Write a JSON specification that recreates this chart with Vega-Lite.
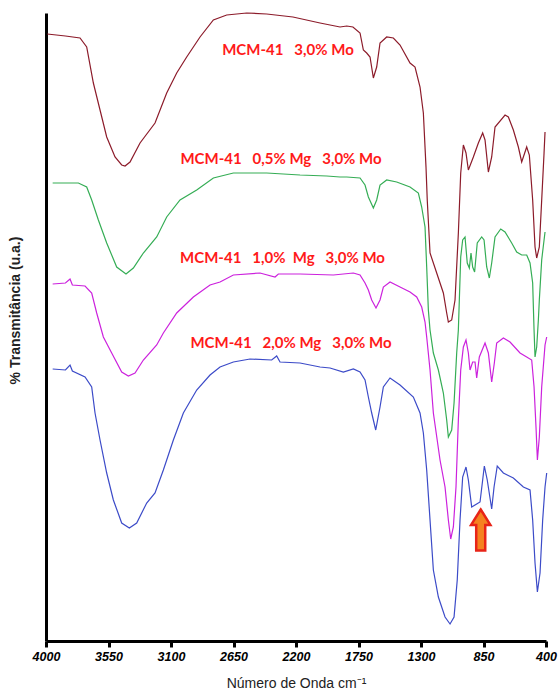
{
  "$schema": "https://vega.github.io/schema/vega-lite/v6.json",
  "width": 500,
  "height": 628,
  "autosize": {"type": "none"},
  "padding": {"left": 46, "top": 13, "right": 12, "bottom": 51},
  "background": "white",
  "config": {"view": {"stroke": null}},
  "datasets": {
    "spectra": [
      {"s":"a","w":3991,"t":607},{"s":"a","w":3860,"t":605},{"s":"a","w":3755,"t":603},{"s":"a","w":3707,"t":594},{"s":"a","w":3659,"t":558},{"s":"a","w":3611,"t":531},{"s":"a","w":3563,"t":504},{"s":"a","w":3503,"t":484},{"s":"a","w":3455,"t":476},{"s":"a","w":3431,"t":475},{"s":"a","w":3395,"t":479},{"s":"a","w":3323,"t":498},{"s":"a","w":3215,"t":518},{"s":"a","w":3131,"t":548},{"s":"a","w":3059,"t":568},{"s":"a","w":2987,"t":584},{"s":"a","w":2891,"t":604},{"s":"a","w":2795,"t":621},{"s":"a","w":2699,"t":626},{"s":"a","w":2555,"t":628},{"s":"a","w":2411,"t":627},{"s":"a","w":2222,"t":624},{"s":"a","w":2027,"t":618},{"s":"a","w":1883,"t":614},{"s":"a","w":1835,"t":615},{"s":"a","w":1790,"t":614},{"s":"a","w":1739,"t":608},{"s":"a","w":1715,"t":591},{"s":"a","w":1691,"t":588},{"s":"a","w":1667,"t":584},{"s":"a","w":1643,"t":563},{"s":"a","w":1619,"t":574},{"s":"a","w":1595,"t":598},{"s":"a","w":1547,"t":604},{"s":"a","w":1499,"t":603},{"s":"a","w":1451,"t":596},{"s":"a","w":1379,"t":578},{"s":"a","w":1343,"t":574},{"s":"a","w":1307,"t":554},{"s":"a","w":1283,"t":528},{"s":"a","w":1264,"t":474},{"s":"a","w":1255,"t":441},{"s":"a","w":1235,"t":388},{"s":"a","w":1187,"t":368},{"s":"a","w":1139,"t":348},{"s":"a","w":1115,"t":328},{"s":"a","w":1103,"t":319},{"s":"a","w":1079,"t":321},{"s":"a","w":1055,"t":341},{"s":"a","w":1031,"t":408},{"s":"a","w":1014,"t":468},{"s":"a","w":995,"t":496},{"s":"a","w":976,"t":488},{"s":"a","w":959,"t":471},{"s":"a","w":923,"t":484},{"s":"a","w":887,"t":498},{"s":"a","w":856,"t":508},{"s":"a","w":839,"t":501},{"s":"a","w":815,"t":469},{"s":"a","w":791,"t":484},{"s":"a","w":767,"t":514},{"s":"a","w":695,"t":526},{"s":"a","w":671,"t":524},{"s":"a","w":635,"t":511},{"s":"a","w":599,"t":494},{"s":"a","w":575,"t":479},{"s":"a","w":539,"t":494},{"s":"a","w":520,"t":486},{"s":"a","w":496,"t":441},{"s":"a","w":479,"t":394},{"s":"a","w":467,"t":383},{"s":"a","w":448,"t":394},{"s":"a","w":431,"t":441},{"s":"a","w":414,"t":488},{"s":"a","w":407,"t":509},

      {"s":"b","w":3952,"t":458},{"s":"b","w":3767,"t":458},{"s":"b","w":3707,"t":454},{"s":"b","w":3671,"t":441},{"s":"b","w":3623,"t":421},{"s":"b","w":3563,"t":398},{"s":"b","w":3491,"t":374},{"s":"b","w":3424,"t":367},{"s":"b","w":3371,"t":373},{"s":"b","w":3299,"t":388},{"s":"b","w":3203,"t":404},{"s":"b","w":3131,"t":424},{"s":"b","w":3035,"t":441},{"s":"b","w":2915,"t":451},{"s":"b","w":2795,"t":463},{"s":"b","w":2651,"t":468},{"s":"b","w":2555,"t":468},{"s":"b","w":2411,"t":468},{"s":"b","w":2171,"t":466},{"s":"b","w":1979,"t":465},{"s":"b","w":1883,"t":464},{"s":"b","w":1835,"t":464},{"s":"b","w":1739,"t":463},{"s":"b","w":1703,"t":456},{"s":"b","w":1679,"t":444},{"s":"b","w":1643,"t":433},{"s":"b","w":1619,"t":441},{"s":"b","w":1595,"t":456},{"s":"b","w":1547,"t":461},{"s":"b","w":1475,"t":459},{"s":"b","w":1379,"t":454},{"s":"b","w":1319,"t":448},{"s":"b","w":1295,"t":434},{"s":"b","w":1271,"t":414},{"s":"b","w":1259,"t":374},{"s":"b","w":1247,"t":331},{"s":"b","w":1235,"t":311},{"s":"b","w":1211,"t":288},{"s":"b","w":1175,"t":271},{"s":"b","w":1139,"t":248},{"s":"b","w":1115,"t":221},{"s":"b","w":1103,"t":204},{"s":"b","w":1079,"t":211},{"s":"b","w":1062,"t":238},{"s":"b","w":1043,"t":288},{"s":"b","w":1031,"t":311},{"s":"b","w":1014,"t":384},{"s":"b","w":1000,"t":401},{"s":"b","w":983,"t":404},{"s":"b","w":967,"t":378},{"s":"b","w":952,"t":373},{"s":"b","w":940,"t":388},{"s":"b","w":928,"t":374},{"s":"b","w":914,"t":369},{"s":"b","w":895,"t":398},{"s":"b","w":863,"t":404},{"s":"b","w":846,"t":401},{"s":"b","w":827,"t":374},{"s":"b","w":808,"t":363},{"s":"b","w":791,"t":378},{"s":"b","w":767,"t":404},{"s":"b","w":726,"t":412},{"s":"b","w":695,"t":409},{"s":"b","w":647,"t":398},{"s":"b","w":611,"t":389},{"s":"b","w":575,"t":386},{"s":"b","w":539,"t":386},{"s":"b","w":515,"t":378},{"s":"b","w":496,"t":358},{"s":"b","w":486,"t":311},{"s":"b","w":479,"t":284},{"s":"b","w":467,"t":294},{"s":"b","w":455,"t":321},{"s":"b","w":448,"t":341},{"s":"b","w":431,"t":381},{"s":"b","w":420,"t":394},{"s":"b","w":407,"t":409},

      {"s":"c","w":3952,"t":357},{"s":"c","w":3860,"t":358},{"s":"c","w":3827,"t":362},{"s":"c","w":3810,"t":356},{"s":"c","w":3719,"t":355},{"s":"c","w":3671,"t":348},{"s":"c","w":3635,"t":328},{"s":"c","w":3587,"t":304},{"s":"c","w":3527,"t":288},{"s":"c","w":3455,"t":269},{"s":"c","w":3407,"t":265},{"s":"c","w":3359,"t":268},{"s":"c","w":3299,"t":281},{"s":"c","w":3203,"t":296},{"s":"c","w":3155,"t":308},{"s":"c","w":3059,"t":328},{"s":"c","w":2939,"t":344},{"s":"c","w":2819,"t":356},{"s":"c","w":2747,"t":359},{"s":"c","w":2651,"t":366},{"s":"c","w":2459,"t":368},{"s":"c","w":2351,"t":364},{"s":"c","w":2327,"t":367},{"s":"c","w":2171,"t":367},{"s":"c","w":1931,"t":366},{"s":"c","w":1787,"t":368},{"s":"c","w":1739,"t":366},{"s":"c","w":1703,"t":358},{"s":"c","w":1679,"t":351},{"s":"c","w":1655,"t":341},{"s":"c","w":1624,"t":333},{"s":"c","w":1595,"t":341},{"s":"c","w":1571,"t":354},{"s":"c","w":1523,"t":359},{"s":"c","w":1451,"t":354},{"s":"c","w":1379,"t":349},{"s":"c","w":1331,"t":344},{"s":"c","w":1295,"t":334},{"s":"c","w":1271,"t":319},{"s":"c","w":1259,"t":304},{"s":"c","w":1235,"t":271},{"s":"c","w":1211,"t":228},{"s":"c","w":1163,"t":181},{"s":"c","w":1127,"t":154},{"s":"c","w":1103,"t":121},{"s":"c","w":1086,"t":102},{"s":"c","w":1067,"t":114},{"s":"c","w":1048,"t":154},{"s":"c","w":1031,"t":221},{"s":"c","w":1014,"t":271},{"s":"c","w":995,"t":294},{"s":"c","w":976,"t":301},{"s":"c","w":959,"t":288},{"s":"c","w":947,"t":271},{"s":"c","w":928,"t":279},{"s":"c","w":911,"t":279},{"s":"c","w":899,"t":263},{"s":"c","w":880,"t":284},{"s":"c","w":839,"t":298},{"s":"c","w":815,"t":288},{"s":"c","w":791,"t":259},{"s":"c","w":772,"t":278},{"s":"c","w":755,"t":298},{"s":"c","w":707,"t":303},{"s":"c","w":659,"t":299},{"s":"c","w":587,"t":288},{"s":"c","w":539,"t":284},{"s":"c","w":503,"t":281},{"s":"c","w":486,"t":254},{"s":"c","w":472,"t":214},{"s":"c","w":462,"t":181},{"s":"c","w":448,"t":204},{"s":"c","w":431,"t":254},{"s":"c","w":407,"t":296},{"s":"c","w":395,"t":304},

      {"s":"d","w":3952,"t":272},{"s":"d","w":3860,"t":271},{"s":"d","w":3827,"t":276},{"s":"d","w":3810,"t":270},{"s":"d","w":3719,"t":264},{"s":"d","w":3671,"t":254},{"s":"d","w":3647,"t":228},{"s":"d","w":3611,"t":201},{"s":"d","w":3563,"t":168},{"s":"d","w":3515,"t":141},{"s":"d","w":3455,"t":118},{"s":"d","w":3400,"t":113},{"s":"d","w":3347,"t":118},{"s":"d","w":3275,"t":138},{"s":"d","w":3215,"t":148},{"s":"d","w":3155,"t":171},{"s":"d","w":3083,"t":201},{"s":"d","w":3011,"t":228},{"s":"d","w":2915,"t":251},{"s":"d","w":2819,"t":266},{"s":"d","w":2747,"t":274},{"s":"d","w":2651,"t":279},{"s":"d","w":2531,"t":282},{"s":"d","w":2375,"t":281},{"s":"d","w":2339,"t":285},{"s":"d","w":2315,"t":279},{"s":"d","w":2171,"t":278},{"s":"d","w":2027,"t":274},{"s":"d","w":1955,"t":273},{"s":"d","w":1859,"t":269},{"s":"d","w":1787,"t":272},{"s":"d","w":1739,"t":269},{"s":"d","w":1703,"t":261},{"s":"d","w":1679,"t":244},{"s":"d","w":1655,"t":228},{"s":"d","w":1626,"t":211},{"s":"d","w":1595,"t":234},{"s":"d","w":1571,"t":254},{"s":"d","w":1523,"t":263},{"s":"d","w":1451,"t":256},{"s":"d","w":1355,"t":244},{"s":"d","w":1307,"t":228},{"s":"d","w":1283,"t":208},{"s":"d","w":1259,"t":171},{"s":"d","w":1235,"t":121},{"s":"d","w":1211,"t":71},{"s":"d","w":1175,"t":44},{"s":"d","w":1127,"t":24},{"s":"d","w":1091,"t":17},{"s":"d","w":1062,"t":24},{"s":"d","w":1039,"t":61},{"s":"d","w":1019,"t":121},{"s":"d","w":1000,"t":164},{"s":"d","w":976,"t":174},{"s":"d","w":959,"t":161},{"s":"d","w":935,"t":134},{"s":"d","w":899,"t":137},{"s":"d","w":875,"t":139},{"s":"d","w":856,"t":161},{"s":"d","w":844,"t":175},{"s":"d","w":823,"t":161},{"s":"d","w":791,"t":132},{"s":"d","w":774,"t":154},{"s":"d","w":751,"t":175},{"s":"d","w":707,"t":168},{"s":"d","w":635,"t":163},{"s":"d","w":563,"t":154},{"s":"d","w":515,"t":151},{"s":"d","w":496,"t":121},{"s":"d","w":479,"t":78},{"s":"d","w":462,"t":49},{"s":"d","w":443,"t":68},{"s":"d","w":424,"t":121},{"s":"d","w":407,"t":154},{"s":"d","w":395,"t":168}
    ],
    "labels": [
      {"w":2258,"t":591,"label":"MCM-41\u00a0\u00a0 3,0% Mo"},
      {"w":2308,"t":482,"label":"MCM-41\u00a0\u00a0 0,5% Mg\u00a0\u00a0 3,0% Mo"},
      {"w":2297,"t":383,"label":"MCM-41\u00a0\u00a0 1,0%\u00a0\u00a0Mg\u00a0\u00a0 3,0% Mo"},
      {"w":2236,"t":298,"label":"MCM-41\u00a0\u00a0 2,0% Mg\u00a0\u00a0 3,0% Mo"}
    ],
    "arrow": [{"w":870,"t":111}]
  },
  "layer": [
    {
      "data": {"name": "spectra"},
      "mark": {"type": "line", "strokeWidth": 1.2, "clip": false},
      "encoding": {
        "x": {
          "field": "w", "type": "quantitative",
          "scale": {"domain": [400, 4000], "reverse": true, "nice": false, "zero": false},
          "axis": {
            "values": [4000, 3550, 3100, 2650, 2200, 1750, 1300, 850, 400],
            "format": "d",
            "grid": false,
            "domainColor": "black", "domainWidth": 3,
            "tickColor": "black", "tickWidth": 3, "tickSize": 6,
            "labelFont": "Liberation Sans", "labelFontSize": 12.5, "labelFontWeight": "bold", "labelFontStyle": "italic",
            "labelColor": "black", "labelPadding": 3, "labelOverlap": false, "labelFlush": false,
            "title": "Número de Onda  cm⁻¹",
            "titleFont": "Liberation Sans", "titleFontSize": 14, "titleFontWeight": "normal", "titleColor": "#222222",
            "titlePadding": 14
          }
        },
        "y": {
          "field": "t", "type": "quantitative",
          "scale": {"domain": [0, 628], "nice": false, "zero": false},
          "axis": {
            "grid": false, "ticks": false, "labels": false,
            "domainColor": "black", "domainWidth": 3,
            "title": "% Transmitância (u.a.)",
            "titleFont": "Liberation Sans", "titleFontSize": 14, "titleFontWeight": "bold", "titleColor": "#222222",
            "titleAngle": -90, "titleX": -31, "titleY": 297, "titleAlign": "center", "titleBaseline": "middle"
          }
        },
        "color": {
          "field": "s", "type": "nominal",
          "scale": {"domain": ["a", "b", "c", "d"], "range": ["#8c1b2a", "#35ad55", "#cc22dd", "#3c4bc8"]},
          "legend": null
        }
      }
    },
    {
      "data": {"name": "labels"},
      "mark": {"type": "text", "color": "#ff1a1a", "font": "Lato", "fontSize": 15, "fontWeight": "bold", "align": "center", "baseline": "middle"},
      "encoding": {
        "x": {"field": "w", "type": "quantitative"},
        "y": {"field": "t", "type": "quantitative"},
        "text": {"field": "label"}
      }
    },
    {
      "data": {"name": "arrow"},
      "mark": {
        "type": "point",
        "shape": "M0,-1L0.47,-0.25L0.22,-0.25L0.22,1L-0.22,1L-0.22,-0.25L-0.47,-0.25Z",
        "size": 1681, "filled": true, "fill": "#f58220", "stroke": "#e82418", "strokeWidth": 2.5, "opacity": 1
      },
      "encoding": {
        "x": {"field": "w", "type": "quantitative"},
        "y": {"field": "t", "type": "quantitative"}
      }
    }
  ]
}
